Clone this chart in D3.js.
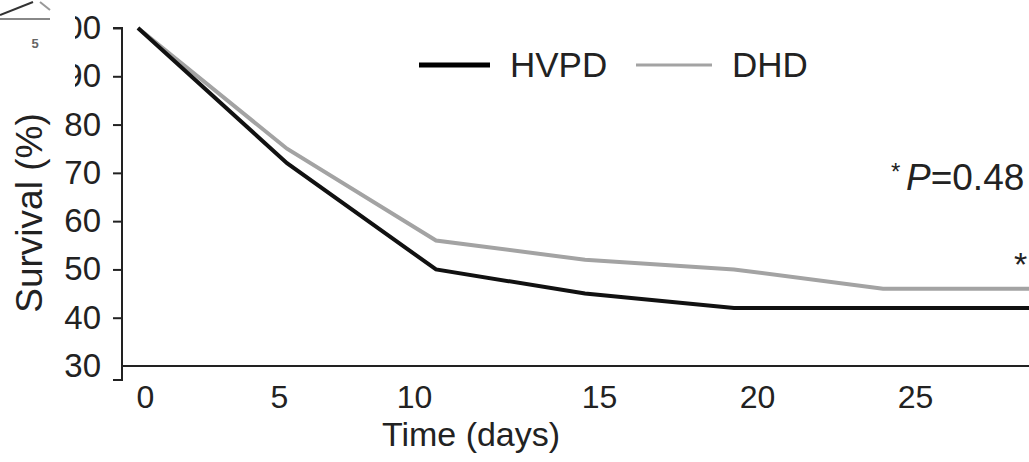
<!DOCTYPE html>
<html>
<head>
<meta charset="utf-8">
<script src="https://cdn.jsdelivr.net/npm/d3@7"></script>
<style>
  body { margin: 0; background: #fff; }
  svg { display: block; font-family: "Liberation Sans", Arial, sans-serif; }
</style>
</head>
<body>
<div id="chart"></div>
<script>
// survival data
var days = [0, 5, 10, 15, 20, 25, 30];
var hvpd = [100, 72, 50, 45, 42, 42, 42];
var dhd = [100, 75, 56, 52, 50, 46, 46];

var seriesNames = ['HVPD', 'DHD'];
var yTicks = [30, 40, 50, 60, 70, 80, 90, 100];
var xTicks = [0, 5, 10, 15, 20, 25];

var W = 1029, H = 462;
var ink = '#222';

var svg = d3.select('#chart').append('svg')
    .attr('width', W)
    .attr('height', H);

// data scales
var x = d3.scaleLinear().domain([0, 30]).range([138, 1032]);
var y = d3.scaleLinear().domain([30, 100]).range([366, 28]);

// the printed tick labels sit a bit off the data spacing in the original figure
var xLabel = d3.scaleLinear().domain(xTicks).range([145, 279, 414, 599, 757, 915]);

// y axis
var yAxis = svg.append('g')
    .attr('transform', 'translate(122,0)')
    .call(d3.axisLeft(y).tickValues(yTicks).tickSize(9).tickSizeOuter(0).tickPadding(12));

yAxis.select('.domain').remove();
yAxis.selectAll('.tick line').attr('stroke', ink).attr('stroke-width', 2)
    .filter(function(d){ return d === 30; }).remove();
yAxis.selectAll('.tick text')
    .attr('fill', ink)
    .attr('font-size', 33)
    .attr('font-family', '"Liberation Sans", Arial, sans-serif');

var yBottom = y(30) + 14;
yAxis.append('path')
    .attr('d', 'M-9,' + y(100) + 'H0V' + yBottom + 'H-9')
    .attr('fill', 'none')
    .attr('stroke', ink)
    .attr('stroke-width', 2);

// x axis
svg.append('line')
    .attr('x1', 122).attr('x2', W)
    .attr('y1', y(30)).attr('y2', y(30))
    .attr('stroke', ink)
    .attr('stroke-width', 2);

var xAxis = svg.append('g')
    .attr('transform', 'translate(0,' + y(30) + ')')
    .call(d3.axisBottom(xLabel).tickValues(xTicks).tickSize(0).tickPadding(19));
xAxis.select('.domain').remove();
xAxis.selectAll('.tick text')
    .attr('fill', ink)
    .attr('font-size', 32)
    .attr('font-family', '"Liberation Sans", Arial, sans-serif');

// axis titles
svg.append('text')
    .attr('x', 471).attr('y', 446)
    .attr('text-anchor', 'middle')
    .attr('font-size', 34)
    .attr('fill', ink)
    .text('Time (days)');

svg.append('text')
    .attr('transform', 'translate(42,213) rotate(-90)')
    .attr('text-anchor', 'middle')
    .attr('font-size', 37)
    .attr('fill', ink)
    .text('Survival (%)');

// lines
var line = d3.line()
    .x(function(d, i){ return x(days[i]); })
    .y(function(d){ return y(d); });

svg.append('path')
    .datum(dhd)
    .attr('d', line)
    .attr('fill', 'none')
    .attr('stroke', '#a3a3a3')
    .attr('stroke-width', 4);

svg.append('path')
    .datum(hvpd)
    .attr('d', line)
    .attr('fill', 'none')
    .attr('stroke', '#111')
    .attr('stroke-width', 4);

// legend
var legend = svg.append('g');
legend.append('line')
    .attr('x1', 419).attr('x2', 490).attr('y1', 65).attr('y2', 65)
    .attr('stroke', '#000').attr('stroke-width', 5);
legend.append('text')
    .attr('x', 510).attr('y', 77)
    .attr('font-size', 35).attr('fill', ink)
    .text(seriesNames[0]);
legend.append('line')
    .attr('x1', 636).attr('x2', 712).attr('y1', 65).attr('y2', 65)
    .attr('stroke', '#a3a3a3').attr('stroke-width', 3);
legend.append('text')
    .attr('x', 732).attr('y', 77)
    .attr('font-size', 35).attr('fill', ink)
    .text(seriesNames[1]);

// p-value note
svg.append('text')
    .attr('x', 891).attr('y', 180)
    .attr('font-size', 24).attr('fill', ink)
    .text('*');
var pText = svg.append('text')
    .attr('x', 906).attr('y', 190)
    .attr('font-size', 37).attr('fill', ink);
pText.append('tspan').attr('font-style', 'italic').text('P');
pText.append('tspan').text('=0.48');

svg.append('text')
    .attr('x', 1014).attr('y', 276)
    .attr('font-size', 34).attr('fill', ink)
    .text('*');

// cropped-off corner of the neighbouring panel
svg.append('rect')
    .attr('x', 0).attr('y', 0)
    .attr('width', 75).attr('height', 100)
    .attr('fill', '#fff');
svg.append('path')
    .attr('d', 'M0,15L33,2')
    .attr('fill', 'none').attr('stroke', '#333').attr('stroke-width', 2);
svg.append('path')
    .attr('d', 'M40,2L50,10')
    .attr('fill', 'none').attr('stroke', '#999').attr('stroke-width', 2);
svg.append('line')
    .attr('x1', 0).attr('x2', 50).attr('y1', 19).attr('y2', 19)
    .attr('stroke', '#888').attr('stroke-width', 2);
svg.append('text')
    .attr('x', 35).attr('y', 48)
    .attr('text-anchor', 'middle')
    .attr('font-size', 13).attr('font-weight', 'bold').attr('fill', '#666')
    .text('5');
</script>
</body>
</html>
